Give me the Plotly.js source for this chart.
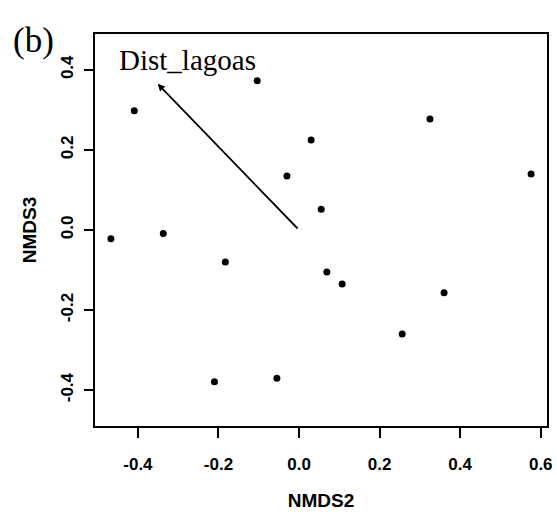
<!DOCTYPE html>
<html>
<head>
<meta charset="utf-8">
<script src="https://cdn.plot.ly/plotly-3.0.1.min.js"></script>
<style>html,body{margin:0;padding:0;background:#fff;}#chart{width:557px;height:518px;}</style>
</head>
<body>
<div id="chart"></div>
<script>
// Site scores (NMDS axes 2 and 3)
const nmds2 = [-0.467, -0.409, -0.337, -0.183, -0.210, -0.104, -0.055, -0.030, 0.030, 0.055, 0.069, 0.107, 0.256, 0.325, 0.360, 0.576];
const nmds3 = [-0.022, 0.298, -0.009, -0.080, -0.379, 0.373, -0.370, 0.135, 0.225, 0.052, -0.105, -0.135, -0.260, 0.277, -0.157, 0.140];
// Environmental vector (fitted arrow)
const vecNames = ["Dist_lagoas"];
const vecX = [-0.351];
const vecY = [0.365];
// Tick values
const xTicks = [-0.4, -0.2, 0.0, 0.2, 0.4, 0.6];
const yTicks = [-0.4, -0.2, 0.0, 0.2, 0.4];

const W = 557, H = 518, L = 94, R = 9, T = 33, B = 91;
const pw = W - L - R, ph = H - T - B;

const trace = {
  x: nmds2, y: nmds3, type: 'scatter', mode: 'markers',
  marker: {color: '#000', size: 7},
  hoverinfo: 'skip', showlegend: false
};

const annotations = [];
vecNames.forEach((name, i) => {
  annotations.push({
    x: vecX[i], y: vecY[i], xref: 'x', yref: 'y',
    ax: 0, ay: 0, axref: 'x', ayref: 'y',
    showarrow: true, text: '', arrowhead: 2, arrowsize: 0.8, arrowwidth: 1.8, arrowcolor: '#000'
  });
  annotations.push({
    x: -0.278, y: 0.424, xref: 'x', yref: 'y', showarrow: false, text: name,
    xanchor: 'center', yanchor: 'middle',
    font: {family: 'Liberation Serif, Times New Roman, serif', size: 29, color: '#000'}
  });
});
// panel label "(b)" placed at pixel (33, 40)
annotations.push({
  x: (33 - L) / pw, y: (H - B - 40) / ph, xref: 'paper', yref: 'paper',
  xanchor: 'center', yanchor: 'middle', showarrow: false, text: '(b)',
  font: {family: 'Liberation Serif, Times New Roman, serif', size: 35, color: '#000'}
});

const tickFont = {family: 'Liberation Sans, Arial, sans-serif', size: 17, color: '#000', weight: 'bold'};
const titleFont = {family: 'Liberation Sans, Arial, sans-serif', size: 19, color: '#000', weight: 'bold'};

const layout = {
  width: W, height: H,
  margin: {l: L, r: R, t: T, b: B, pad: 0},
  paper_bgcolor: '#fff', plot_bgcolor: '#fff',
  showlegend: false,
  xaxis: {
    range: [-0.509, 0.618], tickvals: xTicks, ticktext: xTicks.map(v => v.toFixed(1)),
    ticks: 'outside', ticklen: 10, tickwidth: 2, tickcolor: '#000',
    showgrid: false, zeroline: false, showline: false,
    tickfont: tickFont, ticklabelstandoff: 12,
    title: {text: 'NMDS2', font: titleFont, standoff: 20}
  },
  yaxis: {
    range: [-0.492, 0.492], tickvals: yTicks, ticktext: yTicks.map(v => v.toFixed(1)),
    ticks: 'outside', ticklen: 9, tickwidth: 2, tickcolor: '#000', tickangle: -90,
    showgrid: false, zeroline: false, showline: false,
    tickfont: tickFont, ticklabelstandoff: 4,
    title: {text: 'NMDS3', font: titleFont, standoff: 16}
  },
  shapes: [{type: 'rect', xref: 'paper', yref: 'paper', x0: 0, x1: 1, y0: 0, y1: 1,
            line: {color: '#000', width: 2}, fillcolor: 'rgba(0,0,0,0)'}],
  annotations: annotations
};

Plotly.newPlot('chart', [trace], layout, {displayModeBar: false, staticPlot: true});
</script>
</body>
</html>
